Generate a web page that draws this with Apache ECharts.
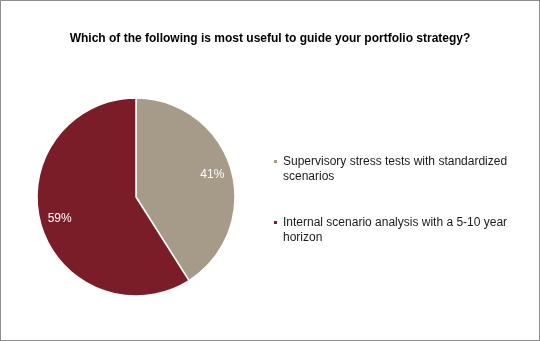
<!DOCTYPE html>
<html>
<head>
<meta charset="utf-8">
<script src="https://cdn.jsdelivr.net/npm/echarts@6/dist/echarts.min.js"></script>
<style>
  html, body { margin: 0; padding: 0; background: #fff; }
  #chart { width: 540px; height: 341px; box-sizing: border-box; border: 1px solid #8e8e8e; }
</style>
</head>
<body>
<div id="chart"></div>
<script>
const titleText = 'Which of the following is most useful to guide your portfolio strategy?';
const categories = [
  'Supervisory stress tests with standardized\nscenarios',
  'Internal scenario analysis with a 5-10 year\nhorizon'
];
const shares = [41, 59];
const sliceColors = ['#A69A88', '#7B1D29'];

const data = categories.map((name, i) => ({ name, value: shares[i] }));
const FONT = '"Liberation Sans", Arial, sans-serif';

// legend marker: a small square sitting level with the first text line,
// inside a box as tall as the two-line label
const markerIcon = 'path://M0,5h5v5h-5zM0,0M5,30';

const chart = echarts.init(document.getElementById('chart'), null, { renderer: 'canvas' });
chart.setOption({
  animation: false,
  color: sliceColors,
  title: {
    text: titleText,
    left: 'center',
    top: 27,
    textStyle: { fontFamily: FONT, fontSize: 12, fontWeight: 'bold', color: '#000' }
  },
  legend: {
    orient: 'vertical',
    left: 266,
    top: 147,
    icon: markerIcon,
    itemWidth: 5,
    itemHeight: 30,
    itemGap: 29,
    selectedMode: false,
    textStyle: { fontFamily: FONT, fontSize: 12, color: '#1a1a1a', lineHeight: 15 },
    data: categories
  },
  series: [
    {
      type: 'pie',
      center: [135, 196],
      radius: [0, 99],
      startAngle: 90,
      clockwise: true,
      silent: true,
      itemStyle: { borderColor: '#fff', borderWidth: 1.5 },
      label: { show: false },
      labelLine: { show: false },
      data: data
    },
    {
      // transparent ring used only to place the percentage labels further out
      type: 'pie',
      center: [135, 196],
      radius: [0, 153],
      startAngle: 90,
      clockwise: true,
      silent: true,
      legendHoverLink: false,
      itemStyle: { color: 'rgba(0,0,0,0)', borderWidth: 0 },
      label: {
        show: true,
        position: 'inside',
        formatter: '{c}%',
        color: '#fff',
        fontFamily: FONT,
        fontSize: 12
      },
      labelLine: { show: false },
      data: data
    }
  ]
});
</script>
</body>
</html>
